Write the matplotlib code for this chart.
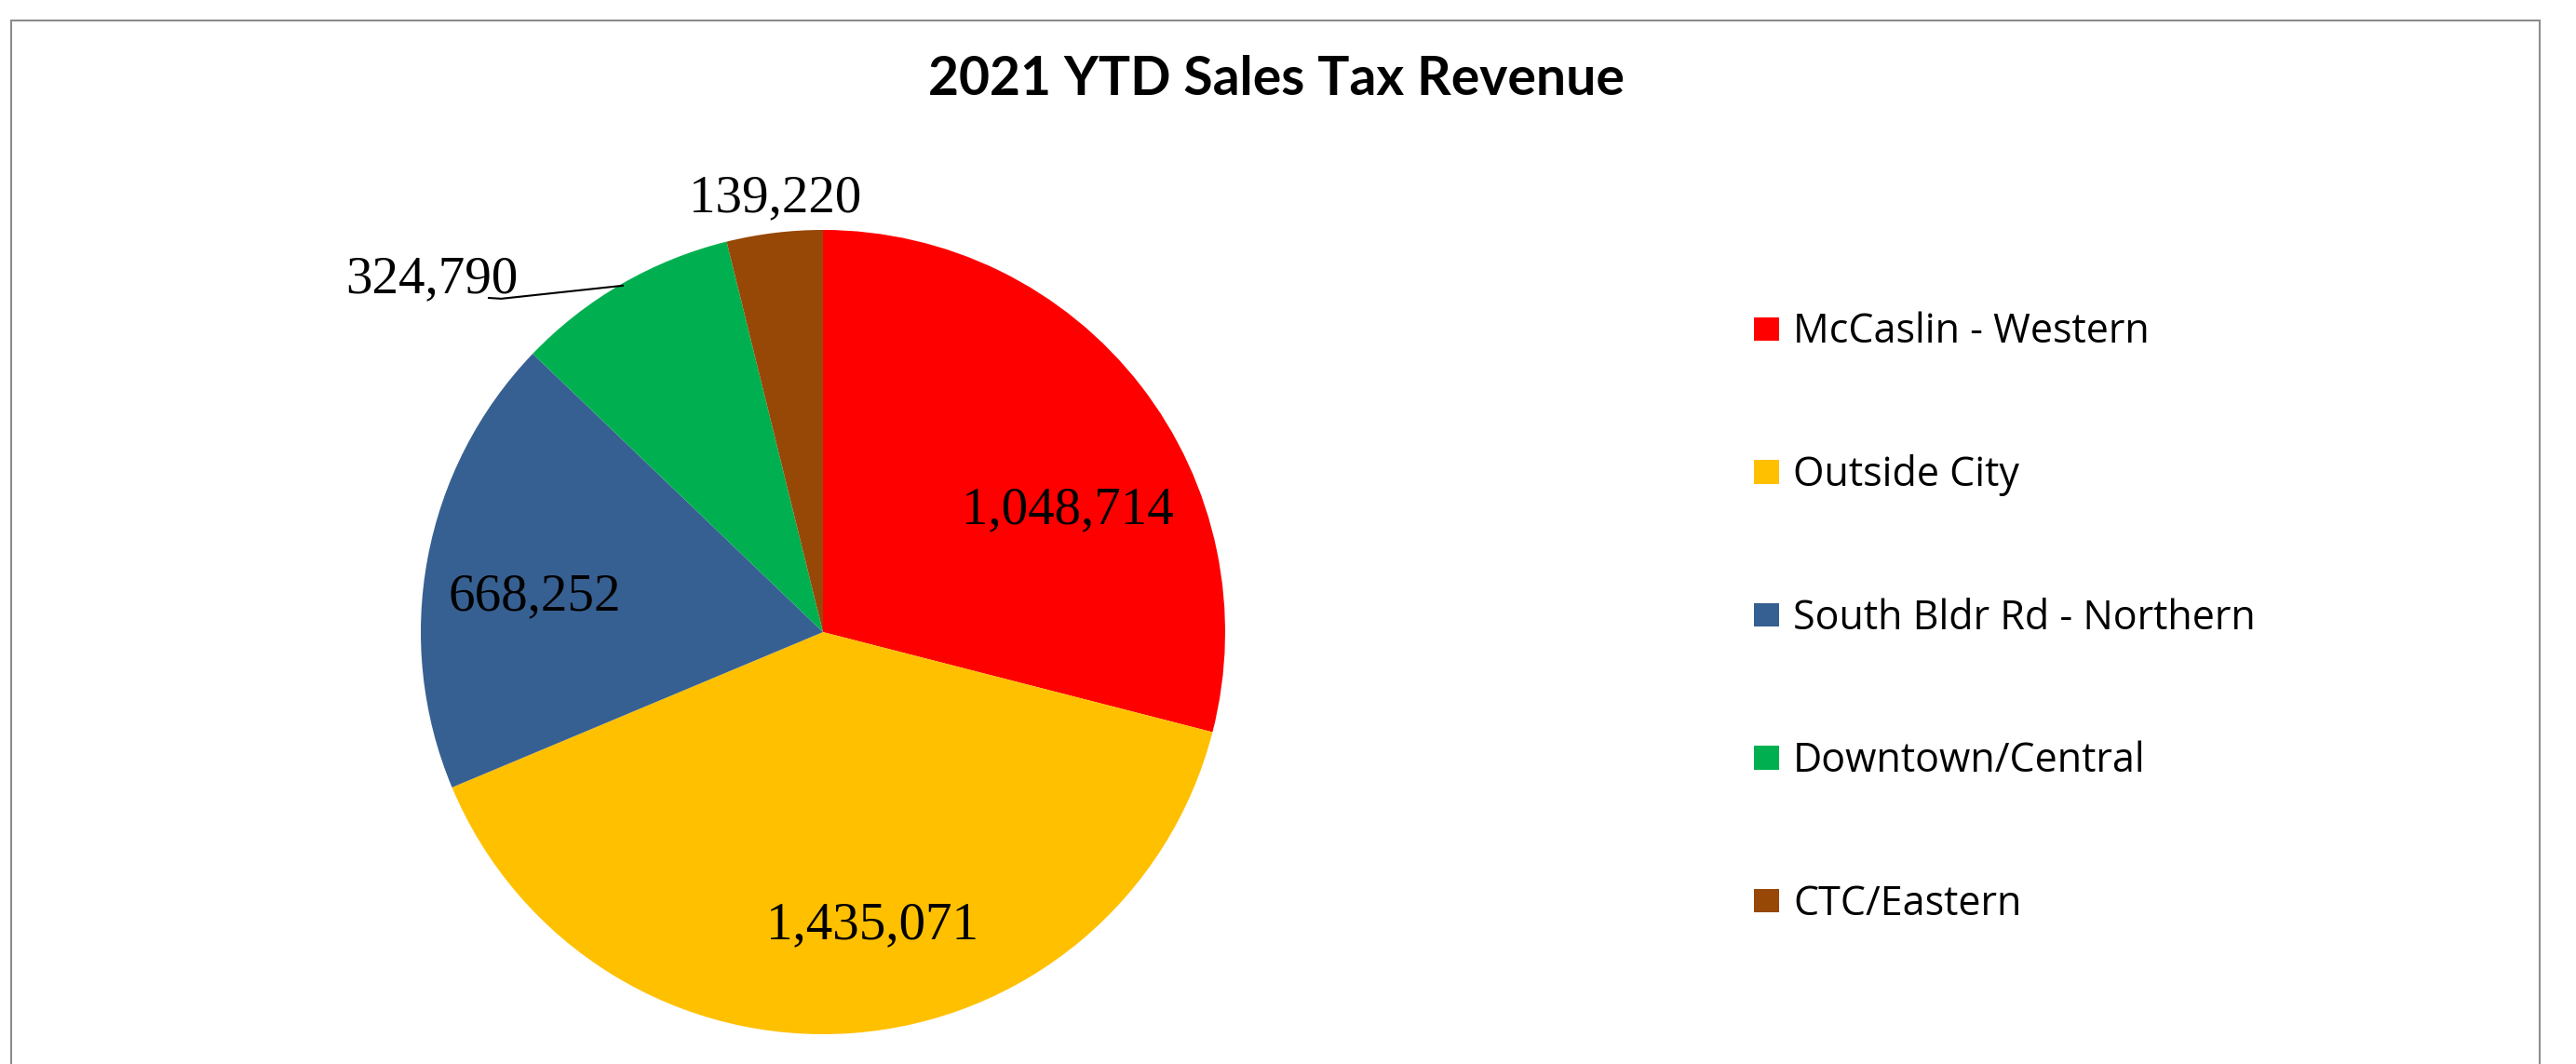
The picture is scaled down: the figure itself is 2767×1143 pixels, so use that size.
import numpy as np
import matplotlib.pyplot as plt
from matplotlib.patches import Patch, Rectangle

regions = ['McCaslin - Western', 'Outside City', 'South Bldr Rd - Northern',
           'Downtown/Central', 'CTC/Eastern']
revenue = [1048714, 1435071, 668252, 324790, 139220]
colors = ['#FF0000', '#FFC000', '#376092', '#00B050', '#974706']

# label anchor (center x, baseline y) in pie-radius units, Excel "best fit" placement
label_xy = [(0.609, 0.271), (0.123, -0.762), (-0.718, 0.056), (-0.972, 0.845), (-0.12, 1.046)]

W, H = 2767, 1143
fig = plt.figure(figsize=(W / 100, H / 100), dpi=100)

# chart frame
fig.patches.append(Rectangle((12 / W, -0.05), (2728 - 12) / W, 1.05 - 22 / H,
                             transform=fig.transFigure, fill=False,
                             edgecolor='#8c8c8c', linewidth=1.5))

cx, cy, r = 884, 679, 432
ax = fig.add_axes([(cx - r) / W, (H - cy - r) / H, 2 * r / W, 2 * r / H])
wedges, _ = ax.pie(revenue, colors=colors, startangle=90, counterclock=False,
                   radius=1, wedgeprops=dict(linewidth=0))
ax.set_xlim(-1, 1)
ax.set_ylim(-1, 1)
ax.set_aspect('equal')
ax.axis('off')

for val, (x, y) in zip(revenue, label_xy):
    ax.text(x, y, f'{val:,}', ha='center', va='baseline',
            fontsize=41, family='Liberation Serif', color='black')

# leader line for the Downtown/Central label
w = wedges[3]
mid = np.deg2rad((w.theta1 + w.theta2) / 2)
ex, ey = 0.995 * np.cos(mid), 0.995 * np.sin(mid)
ax.plot([-0.831, -0.80, ex], [0.831, 0.829, ey], color='black', lw=1.5, clip_on=False)

fig.text(0.4955, 1 - 85 / H, '2021 YTD Sales Tax Revenue', ha='center', va='center',
         fontsize=41, fontweight='bold', family='Lato')

handles = [Patch(facecolor=c, edgecolor='none') for c in colors]
leg = fig.legend(handles, regions, loc='upper left',
                 bbox_to_anchor=(1884 / W, 1 - 335 / H), frameon=False,
                 prop={'family': 'Open Sans', 'size': 31},
                 handlelength=0.63, handleheight=0.53, handletextpad=0.35,
                 labelspacing=2.53, borderpad=0, borderaxespad=0)

fig.savefig('out.png', dpi=100)
